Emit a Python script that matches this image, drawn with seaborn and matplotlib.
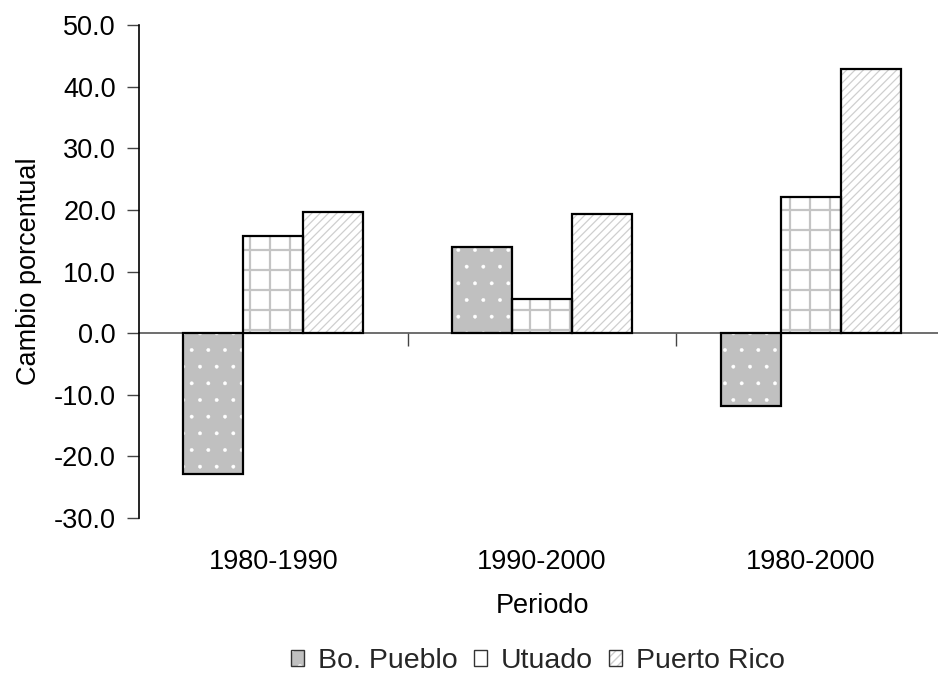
import matplotlib
matplotlib.use("Agg")
import matplotlib.pyplot as plt
import matplotlib.hatch as mhatch
from matplotlib.patches import Rectangle, Patch
from matplotlib.ticker import FormatStrFormatter, MultipleLocator
import seaborn as sns
import pandas as pd

# Percentage change by period for each area
periods = ["1980-1990", "1990-2000", "1980-2000"]
areas = ["Bo. Pueblo", "Utuado", "Puerto Rico"]
bo_pueblo = [-22.8, 14.0, -11.8]
utuado = [15.7, 5.6, 22.1]
puerto_rico = [19.6, 19.4, 42.8]

df = pd.DataFrame({
    "Periodo": periods * 3,
    "Area": [a for a in areas for _ in periods],
    "Cambio": bo_pueblo + utuado + puerto_rico,
})


# A slightly coarser '+' grid than the matplotlib default
class _CoarseH(mhatch.HorizontalHatch):
    def __init__(self, hatch, density):
        super().__init__(hatch, density)
        if "+" in hatch:
            self.num_lines = max(1, int(round(self.num_lines * 5 / 6)))
            self.num_vertices = self.num_lines * 2


class _CoarseV(mhatch.VerticalHatch):
    def __init__(self, hatch, density):
        super().__init__(hatch, density)
        if "+" in hatch:
            self.num_lines = max(1, int(round(self.num_lines * 5 / 6)))
            self.num_vertices = self.num_lines * 2


try:
    mhatch._hatch_types = [
        _CoarseH if t is mhatch.HorizontalHatch else
        _CoarseV if t is mhatch.VerticalHatch else t
        for t in mhatch._hatch_types
    ]
except AttributeError:
    pass

sns.set_theme(style="white")
FS = 19.5
LFS = 20.5
plt.rcParams["font.family"] = ["Liberation Sans", "DejaVu Sans"]
plt.rcParams["axes.unicode_minus"] = False
plt.rcParams["hatch.linewidth"] = 1.0

# Fill, hatch, hatch colour and hatch width for each area
styles = {
    "Bo. Pueblo": dict(face="#c0c0c0", hatch=".", hcolor="white", hlw=0.3),
    "Utuado": dict(face="white", hatch="+", hcolor="#c4c4c4", hlw=1.6),
    "Puerto Rico": dict(face="white", hatch="////", hcolor="#cfcfcf", hlw=0.9),
}


def style_patch(p, st):
    p.set_facecolor(st["face"])
    p.set_edgecolor(st["hcolor"])
    p.set_hatch(st["hatch"])
    p.set_linewidth(0)
    if hasattr(p, "set_hatch_linewidth"):
        p.set_hatch_linewidth(st["hlw"])


fig = plt.figure(figsize=(9.38, 6.75), dpi=100)
W, H = 938, 675
ax = fig.add_axes([139 / W, (H - 518) / H, (945 - 139) / W, (518 - 25) / H])

sns.barplot(data=df, x="Periodo", y="Cambio", hue="Area", order=periods,
            hue_order=areas, width=0.67, ax=ax, legend=False,
            palette=["white"] * 3, saturation=1)

legend_handles = []
for area, cont in zip(areas, ax.containers):
    st = styles[area]
    for p in cont.patches:
        style_patch(p, st)
        # black outline drawn on top of the hatched fill
        ax.add_patch(Rectangle(p.get_xy(), p.get_width(), p.get_height(),
                               fill=False, edgecolor="black", linewidth=1.6,
                               zorder=p.get_zorder() + 0.1))
    fill = Patch()
    style_patch(fill, st)
    legend_handles.append((fill, Patch(fill=False, edgecolor="#333333", linewidth=1.0)))

ax.set_ylim(-30, 50)
ax.yaxis.set_major_locator(MultipleLocator(10))
ax.yaxis.set_major_formatter(FormatStrFormatter("%.1f"))
ax.set_xlim(-0.5, 2.5)

for side in ["top", "right", "bottom"]:
    ax.spines[side].set_visible(False)
ax.spines["left"].set_color("black")
ax.spines["left"].set_linewidth(1.2)

ax.tick_params(axis="y", which="major", left=True, direction="out", length=9,
               width=1.0, color="#444444", labelsize=FS, pad=7.5, labelcolor="black")
ax.tick_params(axis="x", which="major", bottom=False, length=0, labelsize=FS,
               pad=22, labelcolor="black")

# Zero line with category separator ticks
zero = ax.secondary_xaxis(0, transform=ax.transData)
zero.set_xticks([0.5, 1.5])
zero.set_xticklabels([])
zero.tick_params(direction="out", length=9, width=1.0, color="#444444")
zero.spines["bottom"].set_color("#555555")
zero.spines["bottom"].set_linewidth(1.2)

ax.set_xlabel("Periodo", fontsize=FS, labelpad=13, color="black")
ax.set_ylabel("Cambio porcentual", fontsize=FS, labelpad=9, color="black")

fig.legend(legend_handles, areas, loc="center", bbox_to_anchor=(538 / W, 1 - 661 / H),
           ncol=3, frameon=False, fontsize=LFS, handlelength=0.46, handleheight=0.46,
           handletextpad=0.5, columnspacing=0.56, borderpad=0)

fig.savefig("out.png", dpi=100)
